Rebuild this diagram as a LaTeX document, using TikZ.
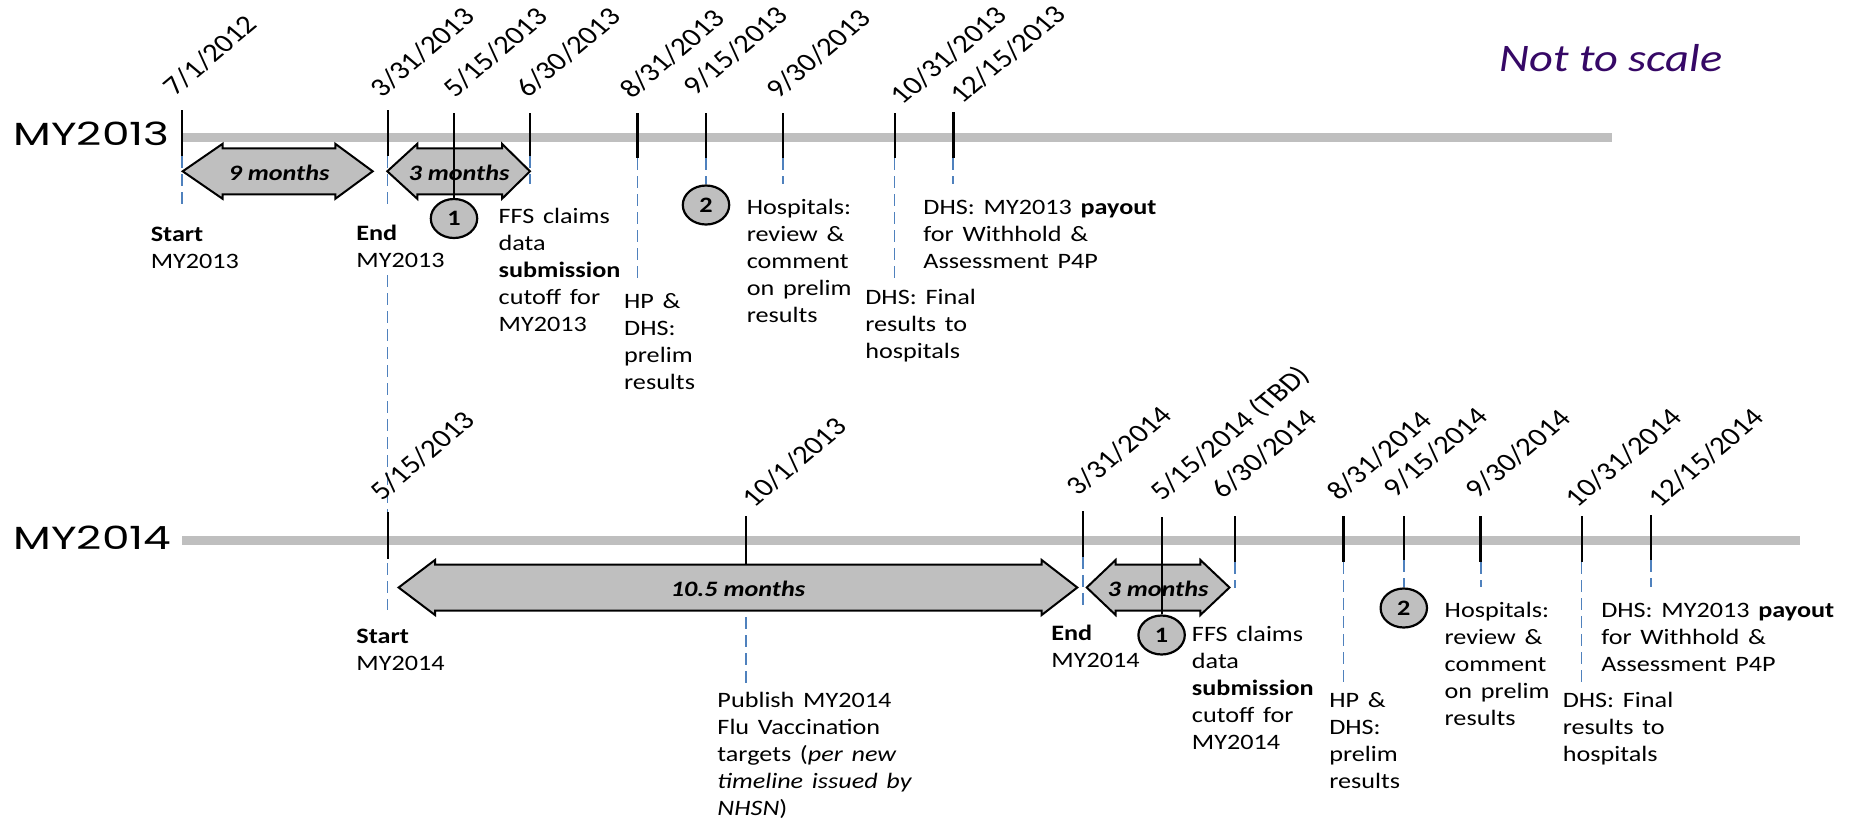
\documentclass[tikz,border=0pt]{standalone}
\usepackage{fontspec}
\setmainfont{Carlito}
\newfontfamily\gothicfont{Poppins}
\definecolor{bargray}{RGB}{191,191,191}
\definecolor{dashblue}{RGB}{79,129,189}
\definecolor{ntspurple}{RGB}{54,8,102}
\tikzset{
  bar/.style={line width=4.5pt, draw=bargray},
  tick/.style={line width=1pt, draw=black},
  thicktick/.style={line width=1.5pt, draw=black},
  guide/.style={line width=0.85pt, draw=dashblue, dash pattern=on 6pt off 3pt},
  arrshape/.style={draw=black, fill=bargray, line width=1pt, line join=miter},
  arrlab/.style={font=\fontsize{11pt}{13.5pt}\selectfont\bfseries\itshape, inner sep=0pt, xscale=1.19},
  numc/.style={circle, draw=black, fill=bargray, line width=1.1pt, minimum size=19.5pt, inner sep=0pt, font=\fontsize{11pt}{13.5pt}\selectfont\bfseries, xscale=1.19},
  txt/.style={font=\fontsize{11pt}{13.5pt}\selectfont, inner sep=0pt, anchor=base west, text width=120pt, align=left, xscale=1.19},
  datel/.style={font=\fontsize{13pt}{15pt}\selectfont, inner sep=0pt, anchor=base west, xshift=6pt, xscale=1.19, rotate=45},
  rowlab/.style={font=\gothicfont\fontsize{16pt}{19pt}\selectfont, inner sep=0pt, anchor=base west, xscale=1.37},
}
\newcommand\dblarr[5]{%
  \draw[arrshape] (#1,#5) -- (#2,{#5-27.5}) -- (#2,{#5-23}) -- (#3,{#5-23}) -- (#3,{#5-27.5}) -- (#4,#5)
    -- (#3,{#5+27.5}) -- (#3,{#5+23}) -- (#2,{#5+23}) -- (#2,{#5+27.5}) -- cycle;}
\begin{document}
\begin{tikzpicture}[x=0.5pt, y=-0.5pt]
\useasboundingbox[fill=white] (0,0) rectangle (1853,820);

% title note
\node[font=\fontsize{19.5pt}{23pt}\selectfont\itshape, text=ntspurple, anchor=base west, inner sep=0pt, xscale=1.19] (nts) at (1499,71) {Not to scale};

% row labels
\node[rowlab] (my13) at (13,145) {MY2013};
\node[rowlab] (my14) at (13,549) {MY2014};

% bars
\draw[bar] (182,137.5) -- (1612,137.5);
\draw[bar] (182,540) -- (1800,540);

% blue dashed guides, row 1
\draw[guide] (182,156) -- (182,208);
\draw[guide] (387.5,156) -- (387.5,208);
\draw[guide] (387.5,275) -- (387.5,610);
\draw[guide] (530,156) -- (530,184);
\draw[guide] (637.6,158) -- (637.6,282);
\draw[guide] (782.7,158) -- (782.7,184);
\draw[guide] (894.6,158) -- (894.6,282);
\draw[guide] (953,158) -- (953,184);
% row 2
\draw[guide] (746,617) -- (746,685);
\draw[guide] (1083,557) -- (1083,610);
\draw[guide] (1234.8,562) -- (1234.8,588);
\draw[guide] (1343.5,562) -- (1343.5,685);
\draw[guide] (1480.8,562) -- (1480.8,587);
\draw[guide] (1581.5,562) -- (1581.5,685);
\draw[guide] (1650.8,560) -- (1650.8,587);

% duration arrows
\dblarr{182.7}{222.6}{335.3}{372.7}{171.3}
\dblarr{387.3}{417.3}{502}{530}{171.3}
\dblarr{398.6}{435}{1041.7}{1077.3}{587.5}
\dblarr{1086.7}{1115.6}{1200.4}{1229.5}{587.5}
\node[arrlab] (m9) at (279,172.5) {9 months};
\node[arrlab] (m3a) at (459,172.5) {3 months};
\node[arrlab] (m105) at (738,588.5) {10.5 months};
\node[arrlab] (m3b) at (1158,588.5) {3 months};

% ticks row 1
\draw[tick] (182,110) -- (182,156);
\draw[tick] (387.5,110) -- (387.5,156);
\draw[tick] (530,113) -- (530,156);
\draw[thicktick] (637.6,113) -- (637.6,158);
\draw[tick] (706,113) -- (706,158);
\draw[tick] (782.7,113) -- (782.7,158);
\draw[tick] (894.6,113) -- (894.6,158);
\draw[thicktick] (953,112) -- (953,158);
% ticks row 2
\draw[tick] (387.5,512) -- (387.5,559);
\draw[tick] (746,516) -- (746,564);
\draw[tick] (1083,511) -- (1083,557);
\draw[tick] (1234.8,516) -- (1234.8,562);
\draw[thicktick] (1343.5,516) -- (1343.5,562);
\draw[tick] (1403.8,516) -- (1403.8,560);
\draw[thicktick] (1480.8,516) -- (1480.8,562);
\draw[tick] (1581.5,516) -- (1581.5,562);
\draw[tick] (1650.8,515) -- (1650.8,560);

% numbered circles and their connectors
\node[numc] (c1a) at (454,218.5) {1};
\node[numc] (c2a) at (706,205) {2};
\node[numc] (c1b) at (1161.6,635) {1};
\node[numc] (c2b) at (1403.8,608) {2};
\coordinate (t513) at (454,113);
\coordinate (t915a) at (706,158);
\coordinate (t514) at (1161.6,517);
\coordinate (t915b) at (1403.8,560);
\draw[tick] (t513) -- (c1a.north);
\draw[guide] (t915a) -- (c2a.north);
\draw[tick] (t514) -- (c1b.north);
\draw[guide] (t915b) -- (c2b.north);

% dates row 1
\node[datel] (d1) at (163.3,96.7) {7/1/2012};
\node[datel] (d2) at (369.7,98.3) {3/31/2013};
\node[datel] (d3) at (442.9,98.3) {5/15/2013};
\node[datel] (d4) at (516,98.3) {6/30/2013};
\node[datel] (d5) at (619.8,100) {8/31/2013};
\node[datel] (d6) at (683,96.7) {9/15/2013};
\node[datel] (d7) at (766,100) {9/30/2013};
\node[datel] (d8) at (890.6,106) {10/31/2013};
\node[datel] (d9) at (950,105) {12/15/2013};
% dates row 2
\node[datel] (e1) at (369.7,501.7) {5/15/2013};
\node[datel] (e2) at (742,508.3) {10/1/2013};
\node[datel] (e3) at (1066.5,496.7) {3/31/2014};
\node[datel] (e4) at (1150,501.7) {5/15/2014 (TBD)};
\node[datel] (e5) at (1211.6,500) {6/30/2014};
\node[datel] (e6) at (1326.9,501.7) {8/31/2014};
\node[datel] (e7) at (1382.7,498.3) {9/15/2014};
\node[datel] (e8) at (1465.4,500) {9/30/2014};
\node[datel] (e9) at (1565.4,508.3) {10/31/2014};
\node[datel] (e10) at (1648,508.3) {12/15/2014};

% texts row 1
\node[txt] (s13) at (150.3,241) {\textbf{Start}\\MY2013};
\node[txt] (e13) at (355.9,240) {\textbf{End}\\MY2013};
\node[txt] (ffs13) at (498.2,223) {FFS claims\\data\\\textbf{submission}\\cutoff for\\MY2013};
\node[txt] (hp13) at (623.7,308) {HP \&\\DHS:\\prelim\\results};
\node[txt] (hos13) at (746.3,214) {Hospitals:\\review \&\\comment\\on prelim\\results};
\node[txt] (fin13) at (864.9,304) {DHS: Final\\results to\\hospitals};
\node[txt] (pay13) at (923,214) {DHS: MY2013 \textbf{payout}\\for Withhold \&\\Assessment P4P};
% texts row 2
\node[txt] (s14) at (355.9,643) {\textbf{Start}\\MY2014};
\node[txt] (e14) at (1050.9,640) {\textbf{End}\\MY2014};
\node[txt] (ffs14) at (1191.5,641) {FFS claims\\data\\\textbf{submission}\\cutoff for\\MY2014};
\node[txt] (pub) at (717,707) {Publish MY2014\\Flu Vaccination\\targets (\textit{per new}\\\textit{timeline issued by}\\\textit{NHSN})};
\node[txt] (hp14) at (1328.8,707) {HP \&\\DHS:\\prelim\\results};
\node[txt] (hos14) at (1444.2,617) {Hospitals:\\review \&\\comment\\on prelim\\results};
\node[txt] (fin14) at (1562.3,707) {DHS: Final\\results to\\hospitals};
\node[txt] (pay14) at (1600.8,617) {DHS: MY2013 \textbf{payout}\\for Withhold \&\\Assessment P4P};
\end{tikzpicture}
\end{document}
